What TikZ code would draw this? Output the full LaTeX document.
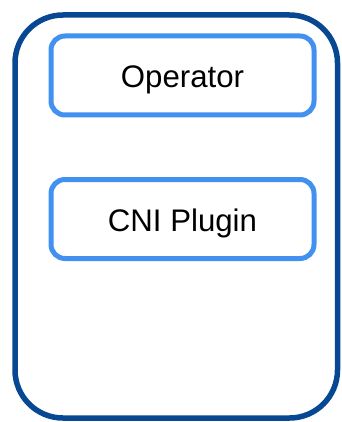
\documentclass[tikz,border=0pt]{standalone}
\usepackage{fontspec}
\setmainfont{Liberation Sans}
\definecolor{frameblue}{RGB}{8,72,146}
\definecolor{boxblue}{RGB}{66,145,240}
\tikzset{
  container/.style={draw=frameblue, line width=5.5pt, rounded corners=48pt, fill=white},
  component/.style={draw=boxblue, line width=5pt, rounded corners=14pt, fill=white,
    minimum width=263pt, minimum height=79pt, inner sep=0pt,
    text height=25pt, text depth=0pt,
    font=\fontsize{31.2pt}{36pt}\selectfont, text=black}
}
\begin{document}
\begin{tikzpicture}[x=1pt,y=-1pt]
  \useasboundingbox (0,0) rectangle (341,422);
  % outer frame
  \draw[container] (15,15) rectangle (337.5,418);
  % components
  \node[component] (operator) at (182.5,75.5) {Operator};
  \node[component] (cni) at (182.5,219) {CNI Plugin};
\end{tikzpicture}
\end{document}
